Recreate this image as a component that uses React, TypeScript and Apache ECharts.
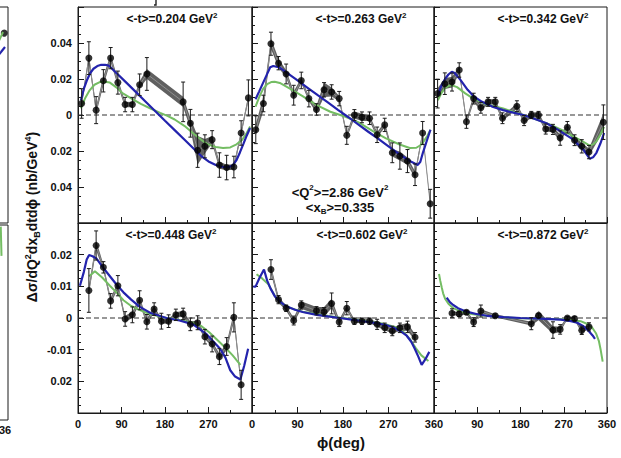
import React, { useEffect, useRef } from "react";
import * as echarts from "echarts";

const FONT = "'Liberation Sans', Arial, Helvetica, sans-serif";
const BLUE = "#2323ad";
const GREEN = "#74bd63";
const BAND = "#606060";
const LINK = "#8e8e8e";
const INK = "#1a1a1a";

// ---- <-t> = 0.204 GeV^2 ----
const phiA = [7.5, 22.5, 37.5, 52.5, 67.5, 82.5, 97.5, 112.5, 127.5, 142.5, 217.5, 232.5, 247.5, 262.5, 277.5, 292.5, 307.5, 322.5, 337.5, 352.5];
const valA = [0.0064, 0.0316, 0.0027, 0.019, 0.0316, 0.018, 0.0058, 0.0058, 0.0168, 0.0228, 0.0073, -0.0046, -0.0196, -0.0174, -0.0137, -0.0278, -0.0292, -0.0289, -0.01, 0.0095];
const errA = [0.0082, 0.0091, 0.0075, 0.0062, 0.0059, 0.0064, 0.004, 0.004, 0.006, 0.0091, 0.011, 0.0077, 0.0095, 0.0064, 0.005, 0.0068, 0.0068, 0.006, 0.0068, 0.01];
const sysA = [0.0015, 0.002, 0.002, 0.0025, 0.002, 0.002, 0.0015, 0.0015, 0.002, 0.0028, 0.0028, 0.003, 0.008, 0.004, 0.002, 0.002, 0.0015, 0.0015, 0.0015, 0.0015];
const blueA = [[6, 0.008], [12, 0.0145], [18, 0.019], [25, 0.0232], [32, 0.0257], [40, 0.0272], [48, 0.0279], [56, 0.0279], [64, 0.0274], [80, 0.0232], [100, 0.018], [120, 0.0127], [140, 0.0074], [160, 0.0021], [180, -0.0032], [200, -0.0084], [220, -0.0136], [240, -0.0189], [255, -0.0228], [270, -0.0258], [285, -0.0278], [300, -0.0289], [311, -0.029], [320, -0.028], [328, -0.025], [335, -0.0208], [342, -0.0162], [349, -0.0115], [356, -0.0072]];
const greenA = [[6, 0.0037], [15, 0.0095], [24, 0.0137], [34, 0.0168], [45, 0.0183], [55, 0.0185], [66, 0.018], [80, 0.0152], [92, 0.0122], [110, 0.0092], [130, 0.0062], [150, 0.0036], [170, 0.0012], [185, -0.0005], [200, -0.0025], [220, -0.006], [240, -0.0105], [255, -0.0138], [268, -0.0162], [285, -0.0178], [300, -0.0183], [315, -0.018], [328, -0.0163], [340, -0.0137], [348, -0.0105], [356, -0.0064]];

// ---- <-t> = 0.263 GeV^2 ----
const phiB = [7.5, 22.5, 37.5, 52.5, 67.5, 82.5, 97.5, 112.5, 127.5, 142.5, 157.5, 172.5, 187.5, 202.5, 217.5, 232.5, 247.5, 262.5, 277.5, 292.5, 307.5, 322.5, 337.5, 352.5];
const valB = [-0.0082, 0.0064, 0.0396, 0.0288, 0.0228, 0.011, 0.0192, 0.0091, 0.0031, 0.014, 0.0128, 0.0091, -0.0113, 0.0, -0.0013, -0.0018, -0.011, -0.0055, -0.021, -0.0228, -0.0256, -0.0332, -0.01, -0.0493];
const errB = [0.0077, 0.0046, 0.0064, 0.0037, 0.0055, 0.0055, 0.0046, 0.0046, 0.0032, 0.004, 0.004, 0.004, 0.005, 0.003, 0.003, 0.0035, 0.0043, 0.0037, 0.0055, 0.0073, 0.0064, 0.006, 0.0064, 0.008];
const sysB = [0.003, 0.004, 0.003, 0.0025, 0.002, 0.002, 0.0015, 0.0015, 0.002, 0.004, 0.0025, 0.0015, 0.0015, 0.002, 0.002, 0.0015, 0.0015, 0.0015, 0.002, 0.0025, 0.002, 0.002, 0.001, 0.0005];
const blueB = [[7, 0.0088], [14, 0.013], [21, 0.0173], [28, 0.0216], [36, 0.0265], [42, 0.0272], [54, 0.0265], [70, 0.0233], [90, 0.0192], [110, 0.0151], [130, 0.011], [150, 0.007], [170, 0.0029], [190, -0.0011], [210, -0.0052], [230, -0.0093], [250, -0.0133], [270, -0.0174], [292, -0.0219], [305, -0.0243], [315, -0.026], [322, -0.027], [328, -0.0277], [333, -0.026], [338, -0.021], [345, -0.015], [353, -0.0082]];
const greenB = [[7, 0.0046], [15, 0.0105], [22, 0.0145], [30, 0.0172], [38, 0.0183], [45, 0.0185], [55, 0.0178], [75, 0.0146], [100, 0.0105], [128, 0.0055], [155, 0.0018], [185, -0.001], [210, -0.004], [240, -0.0091], [265, -0.013], [292, -0.0164], [312, -0.0183], [325, -0.0182], [333, -0.0168], [340, -0.0145], [347, -0.0115], [353, -0.0082]];

// ---- <-t> = 0.342 GeV^2 ----
const phiC = [7.5, 22.5, 37.5, 52.5, 67.5, 82.5, 97.5, 112.5, 127.5, 142.5, 172.5, 187.5, 202.5, 217.5, 232.5, 247.5, 262.5, 277.5, 292.5, 307.5, 322.5, 352.5];
const valC = [0.0119, 0.0174, 0.0183, 0.025, -0.0037, 0.0091, 0.004, 0.0073, 0.0073, -0.0018, 0.0049, -0.0031, 0.0, 0.0, -0.0078, -0.008, -0.0128, -0.0068, -0.014, -0.0174, -0.0206, -0.004];
const errC = [0.008, 0.006, 0.005, 0.004, 0.0037, 0.003, 0.003, 0.0025, 0.0025, 0.003, 0.003, 0.0028, 0.002, 0.002, 0.0028, 0.0028, 0.004, 0.0032, 0.003, 0.0037, 0.0037, 0.0096];
const sysC = [0.003, 0.003, 0.003, 0.002, 0.0015, 0.002, 0.0015, 0.0015, 0.0015, 0.0015, 0.0015, 0.0015, 0.0015, 0.0015, 0.0015, 0.0015, 0.002, 0.0015, 0.002, 0.002, 0.002, 0.005];
const blueC = [[8, 0.011], [15, 0.016], [23, 0.02], [30, 0.0225], [37, 0.024], [43, 0.0233], [55, 0.0195], [70, 0.014], [82, 0.0105], [100, 0.0073], [120, 0.0048], [144, 0.0027], [165, 0.0013], [186, 0], [210, -0.0022], [234, -0.0046], [260, -0.0085], [290, -0.0137], [310, -0.019], [324, -0.0243], [331, -0.0235], [338, -0.021], [346, -0.016], [354, -0.01]];
const greenC = [[8, 0.0082], [15, 0.012], [23, 0.015], [30, 0.0162], [37, 0.0165], [48, 0.0155], [65, 0.012], [82, 0.0091], [110, 0.0058], [144, 0.0036], [165, 0.0018], [186, 0], [215, -0.0027], [248, -0.006], [270, -0.0088], [290, -0.0119], [310, -0.0148], [324, -0.017], [332, -0.0162], [338, -0.0146], [346, -0.011], [354, -0.0066]];

// ---- <-t> = 0.448 GeV^2 ----
const phiD = [22.5, 37.5, 52.5, 67.5, 82.5, 97.5, 112.5, 127.5, 142.5, 157.5, 172.5, 187.5, 202.5, 217.5, 232.5, 247.5, 262.5, 277.5, 292.5, 307.5, 322.5, 337.5];
const valD = [0.0087, 0.0229, 0.016, 0.0054, 0.0102, -0.0003, 0.001, 0.0056, -0.0012, 0.0028, -0.001, -0.001, 0.001, 0.0013, -0.002, -0.0015, -0.0059, -0.0082, -0.0122, -0.009, 0.0002, -0.0211];
const errD = [0.0069, 0.0046, 0.0018, 0.0023, 0.0032, 0.0023, 0.0025, 0.003, 0.0023, 0.002, 0.0025, 0.002, 0.0018, 0.0018, 0.002, 0.0022, 0.0023, 0.0025, 0.0025, 0.0028, 0.0046, 0.0046];
const sysD = [0.0012, 0.0015, 0.001, 0.001, 0.001, 0.001, 0.001, 0.001, 0.001, 0.001, 0.0008, 0.0008, 0.0008, 0.001, 0.0008, 0.0008, 0.0008, 0.0008, 0.001, 0.0012, 0.0015, 0.001];
const blueD = [[4, 0.0102], [12, 0.0145], [18, 0.0185], [23, 0.0199], [30, 0.0195], [38, 0.0188], [50, 0.0163], [66, 0.0132], [80, 0.0105], [94, 0.0081], [110, 0.0058], [128, 0.0035], [150, 0.0016], [183, 0], [210, -0.0008], [238, -0.002], [266, -0.0051], [294, -0.0097], [305, -0.0125], [315, -0.0165], [325, -0.0185], [336, -0.0194], [344, -0.015], [352, -0.0097]];
const greenD = [[23, 0.0132], [35, 0.0148], [50, 0.0128], [66, 0.0102], [80, 0.008], [94, 0.0056], [110, 0.0038], [128, 0.0025], [150, 0.0012], [183, 0], [210, -0.0006], [238, -0.0015], [255, -0.0025], [272, -0.0046], [290, -0.0072], [307, -0.0097], [320, -0.0118], [336, -0.0148]];

// ---- <-t> = 0.602 GeV^2 ----
const phiE = [37.5, 52.5, 67.5, 82.5, 97.5, 127.5, 142.5, 157.5, 172.5, 187.5, 202.5, 217.5, 232.5, 247.5, 262.5, 277.5, 292.5, 307.5, 322.5];
const valE = [0.0153, 0.0058, 0.0031, -0.0008, 0.0041, 0.0023, 0.002, 0.0046, -0.0013, 0.0031, -0.001, -0.001, -0.001, -0.002, -0.0031, -0.0041, -0.0031, -0.0028, -0.0061];
const errE = [0.0031, 0.0013, 0.001, 0.0014, 0.0013, 0.0013, 0.0013, 0.0033, 0.0014, 0.0021, 0.001, 0.001, 0.001, 0.0016, 0.0015, 0.0015, 0.0015, 0.0018, 0.0015];
const sysE = [0.0012, 0.001, 0.0008, 0.0008, 0.0012, 0.0012, 0.0015, 0.0015, 0.0008, 0.0008, 0.0006, 0.0006, 0.0006, 0.0008, 0.0008, 0.0008, 0.001, 0.0012, 0.001];
const blueE = [[2.6, 0.0099], [7, 0.0099], [15, 0.0127], [23.7, 0.0153], [30, 0.0118], [37, 0.0092], [45, 0.0069], [55, 0.0052], [68, 0.0037], [85, 0.0026], [100, 0.0019], [128, 0.001], [150, 0.0005], [174, 0], [200, -0.0006], [225, -0.0011], [246, -0.0016], [265, -0.0022], [280, -0.003], [295, -0.0043], [306, -0.0056], [315, -0.0075], [322, -0.0097], [329, -0.0122], [335.6, -0.0148], [343, -0.013], [350.7, -0.0107]];
const greenE = [[9, 0.0138], [20, 0.0125], [32, 0.0107], [47, 0.0065], [60, 0.0045], [75, 0.0032], [100, 0.002], [130, 0.0012], [174, 0.0001], [220, -0.0008], [260, -0.0018], [286, -0.003], [300, -0.0045], [312, -0.0066], [324, -0.0095], [335, -0.0118], [349, -0.0136]];

// ---- <-t> = 0.872 GeV^2 ----
const phiF = [37.5, 52.5, 67.5, 82.5, 97.5, 127.5, 202.5, 217.5, 247.5, 262.5, 277.5, 292.5, 307.5, 322.5];
const valF = [0.0015, 0.0013, 0.0018, -0.0013, 0.0022, 0.0007, -0.0018, 0.0008, -0.0038, -0.0036, 0.0, -0.0002, -0.0039, -0.0028];
const errF = [0.0014, 0.0008, 0.0006, 0.0014, 0.0019, 0.0006, 0.0019, 0.0006, 0.0026, 0.0015, 0.0005, 0.0006, 0.0013, 0.0013];
const sysF = [0.0006, 0.0006, 0.0006, 0.0006, 0.0006, 0.0005, 0.0006, 0.0015, 0.0012, 0.0008, 0.0005, 0.0005, 0.0008, 0.0006];
const blueF = [[26.4, 0.0064], [33, 0.005], [40, 0.0041], [50, 0.0031], [68, 0.002], [90, 0.0012], [110, 0.0007], [145, 0.0003], [180, 0], [220, -0.0002], [264, -0.0005], [285, -0.001], [298, -0.0015], [310, -0.0025], [322, -0.0041], [330, -0.0055], [335, -0.0066]];
const greenF = [[10.4, 0.0139], [13, 0.0118], [16, 0.0097], [19, 0.0078], [23, 0.0061], [30, 0.0045], [40, 0.0031], [55, 0.0021], [68, 0.0015], [100, 0.0008], [140, 0.0003], [180, -0.0001], [220, -0.0002], [264, -0.0004], [290, -0.0007], [305, -0.001], [318, -0.0018], [329, -0.003], [337, -0.0048], [343, -0.0072], [347, -0.0102], [351, -0.0138]];

// Edge of the neighbouring figure
const edgeTopPoint = [[352.5, 0.0455]];
const edgeTopGreen = [[340, 0.04], [350, 0.0461]];
const edgeTopBlue = [[340, 0.033], [354, 0.0378]];
const edgeLowGreen = [[345.5, 0.0295], [347, 0.0205]];

const tValues = ["0.204", "0.263", "0.342", "0.448", "0.602", "0.872"];
const q2Value = "2.86";
const xbValue = "0.335";

const panels = [
  { phi: phiA, val: valA, err: errA, sys: sysA, blue: blueA, green: greenA },
  { phi: phiB, val: valB, err: errB, sys: sysB, blue: blueB, green: greenB },
  { phi: phiC, val: valC, err: errC, sys: sysC, blue: blueC, green: greenC },
  { phi: phiD, val: valD, err: errD, sys: sysD, blue: blueD, green: greenD },
  { phi: phiE, val: valE, err: errE, sys: sysE, blue: blueE, green: greenE },
  { phi: phiF, val: valF, err: errF, sys: sysF, blue: blueF, green: greenF },
];

// frame layout
const colLeft = [78, 252, 434];
const colWidth = [174, 182, 173];
const rowTop = [7, 223];
const rowHeight = [216, 190];
const rowRange = [0.06, 0.03];
const rowStep = [0.02, 0.01];

const r4 = (v: number) => Math.round(v * 10000) / 10000;

function yLabel(row: number) {
  return (v: number) => {
    const x = r4(v);
    if (Math.abs(x) > rowRange[row] - 1e-6) return "";
    if (x === 0) return "0";
    if (row === 1 && x === -0.01) return "-0.01";
    return Math.abs(x).toFixed(2);
  };
}

function xLabel(col: number) {
  return (v: number) => {
    if (col === 0 && v === 360) return "";
    if (col === 2 && v === 0) return "";
    return String(v);
  };
}

function bandItem(params: any, api: any) {
  const a = api.coord([api.value(0), api.value(2)]);
  const b = api.coord([api.value(3), api.value(5)]);
  const c = api.coord([api.value(3), api.value(4)]);
  const d = api.coord([api.value(0), api.value(1)]);
  return { type: "polygon", shape: { points: [a, b, c, d] }, style: { fill: BAND } };
}

function errItem(params: any, api: any) {
  const x = api.value(0);
  const hi = api.coord([x, api.value(2)]);
  const lo = api.coord([x, api.value(1)]);
  const w = 2;
  const st = { stroke: INK, lineWidth: 1 };
  return {
    type: "group",
    children: [
      { type: "line", shape: { x1: hi[0], y1: hi[1], x2: lo[0], y2: lo[1] }, style: st },
      { type: "line", shape: { x1: hi[0] - w, y1: hi[1], x2: hi[0] + w, y2: hi[1] }, style: st },
      { type: "line", shape: { x1: lo[0] - w, y1: lo[1], x2: lo[0] + w, y2: lo[1] }, style: st },
    ],
  };
}

function buildOption() {
  const grid: any[] = [];
  const xAxis: any[] = [];
  const yAxis: any[] = [];
  const series: any[] = [];
  const axisLine = { show: true, onZero: false, lineStyle: { color: INK, width: 1 } };
  const labelFont = { fontFamily: FONT, fontWeight: "bold", fontSize: 11, color: "#111" };

  panels.forEach((p, i) => {
    const row = Math.floor(i / 3);
    const col = i % 3;
    grid.push({
      left: colLeft[col], top: rowTop[row], width: colWidth[col], height: rowHeight[row],
      show: true, borderColor: INK, borderWidth: 1, outerBoundsMode: "none", containLabel: false,
    });
    xAxis.push({
      gridIndex: i, type: "value", min: 0, max: 360, interval: 90,
      axisLine,
      axisTick: { show: true, inside: true, length: 6, lineStyle: { color: INK } },
      minorTick: { show: true, splitNumber: 2, length: 3, lineStyle: { color: INK } },
      splitLine: { show: false },
      axisLabel: { show: row === 1, margin: 5, formatter: xLabel(col), ...labelFont },
    });
    yAxis.push({
      gridIndex: i, type: "value", min: -rowRange[row], max: rowRange[row], interval: rowStep[row],
      axisLine,
      axisTick: { show: true, inside: true, length: 6, lineStyle: { color: INK } },
      minorTick: { show: true, splitNumber: 4, length: 3, lineStyle: { color: INK } },
      splitLine: { show: false },
      axisLabel: { show: col === 0, margin: 6, formatter: yLabel(row), ...labelFont },
    });

    const pts = p.phi.map((f, k) => [f, p.val[k]]);
    const bars = p.phi.map((f, k) => [f, p.val[k] - p.err[k], p.val[k] + p.err[k]]);
    const quads = p.phi.slice(0, -1).map((f, k) => [
      f, p.val[k] - p.sys[k], p.val[k] + p.sys[k],
      p.phi[k + 1], p.val[k + 1] - p.sys[k + 1], p.val[k + 1] + p.sys[k + 1],
    ]);
    const ax = { xAxisIndex: i, yAxisIndex: i };

    series.push({ type: "custom", ...ax, renderItem: bandItem, data: quads, z: 2, silent: true, clip: true });
    series.push({ type: "line", ...ax, data: pts, symbol: "none", z: 3, lineStyle: { color: LINK, width: 1 } });
    series.push({ type: "line", ...ax, data: [[0, 0], [360, 0]], symbol: "none", z: 3, lineStyle: { color: "#333", width: 1.2, type: [5, 3] } });
    series.push({ type: "line", ...ax, data: p.green, symbol: "none", z: 4, lineStyle: { color: GREEN, width: 2 } });
    series.push({ type: "line", ...ax, data: p.blue, symbol: "none", z: 5, lineStyle: { color: BLUE, width: 2.2 } });
    series.push({ type: "custom", ...ax, renderItem: errItem, data: bars, z: 6, silent: true, clip: true });
    series.push({ type: "scatter", ...ax, data: pts, symbol: "circle", symbolSize: 7, z: 7, itemStyle: { color: "#000" } });
  });

  // neighbouring figure, mostly outside the page
  const edgeGrids = [
    { left: -172, top: 7, width: 180, height: 216, range: 0.06 },
    { left: -172, top: 225, width: 180, height: 195, range: 0.03 },
  ];
  edgeGrids.forEach((g, j) => {
    const idx = 6 + j;
    grid.push({
      left: g.left, top: g.top, width: g.width, height: g.height,
      show: true, borderColor: INK, borderWidth: 1, outerBoundsMode: "none", containLabel: false,
    });
    xAxis.push({ gridIndex: idx, type: "value", min: 0, max: 360, show: false });
    yAxis.push({ gridIndex: idx, type: "value", min: -g.range, max: g.range, show: false });
  });
  series.push({ type: "line", xAxisIndex: 6, yAxisIndex: 6, data: edgeTopGreen, symbol: "none", lineStyle: { color: GREEN, width: 2 } });
  series.push({ type: "line", xAxisIndex: 6, yAxisIndex: 6, data: edgeTopBlue, symbol: "none", lineStyle: { color: BLUE, width: 2.2 } });
  series.push({ type: "scatter", xAxisIndex: 6, yAxisIndex: 6, data: edgeTopPoint, symbolSize: 7, itemStyle: { color: "#000" } });
  series.push({ type: "line", xAxisIndex: 7, yAxisIndex: 7, data: edgeLowGreen, symbol: "none", lineStyle: { color: GREEN, width: 2 } });

  const tCenters = [[172, 19], [361, 19], [543, 19], [171, 235], [362, 235], [543, 235]];
  const tRich = {
    a: { fontFamily: FONT, fontWeight: "bold", fontSize: 12, lineHeight: 16, fill: "#111" },
    s: { fontFamily: FONT, fontWeight: "bold", fontSize: 8, lineHeight: 10, verticalAlign: "top", fill: "#111" },
    b: { fontFamily: FONT, fontWeight: "bold", fontSize: 8, lineHeight: 10, verticalAlign: "bottom", fill: "#111" },
    q: { fontFamily: FONT, fontWeight: "bold", fontSize: 13, lineHeight: 17, fill: "#111" },
  };
  const graphic: any[] = tValues.map((t, i) => ({
    type: "text", x: tCenters[i][0], y: tCenters[i][1], z: 20,
    style: { text: `{a|<-t>=${t} GeV}{s|2}`, rich: tRich, align: "center", verticalAlign: "middle" },
  }));
  graphic.push({
    type: "text", x: 340, y: 192, z: 20,
    style: { text: `{q|<Q}{s|2}{q|>=${q2Value} GeV}{s|2}`, rich: tRich, align: "center", verticalAlign: "middle" },
  });
  graphic.push({
    type: "text", x: 340, y: 207, z: 20,
    style: { text: `{q|<x}{b|B}{q|>=${xbValue}}`, rich: tRich, align: "center", verticalAlign: "middle" },
  });
  graphic.push({
    type: "text", x: 32, y: 217, rotation: Math.PI / 2, z: 20,
    style: {
      text: "{n|Δσ/dQ}{p|2}{n|dx}{d|B}{n|dtdϕ (nb/GeV}{p|4}{n|)}",
      align: "center", verticalAlign: "middle",
      rich: {
        n: { fontFamily: FONT, fontWeight: "bold", fontSize: 14, lineHeight: 18, fill: "#111" },
        p: { fontFamily: FONT, fontWeight: "bold", fontSize: 9, lineHeight: 11, verticalAlign: "top", fill: "#111" },
        d: { fontFamily: FONT, fontWeight: "bold", fontSize: 9, lineHeight: 11, verticalAlign: "bottom", fill: "#111" },
      },
    },
  });
  graphic.push({
    type: "text", x: 341, y: 442, z: 20,
    style: { text: "ϕ(deg)", fontFamily: FONT, fontWeight: "bold", fontSize: 15, fill: "#111", align: "center", verticalAlign: "middle" },
  });
  graphic.push({
    type: "text", x: -1, y: 430, z: 20,
    style: { text: "36", fontFamily: FONT, fontWeight: "bold", fontSize: 11, fill: "#111", align: "left", verticalAlign: "middle" },
  });
  // stroke peeking in from the caption above the figure
  graphic.push({
    type: "polyline", z: 20,
    shape: { points: [[156, 0], [156, 5], [154, 5]] },
    style: { stroke: "#222", lineWidth: 1.4, fill: null },
  });

  return { animation: false, backgroundColor: "#fff", grid, xAxis, yAxis, series, graphic };
}

export default function App() {
  const ref = useRef<HTMLDivElement>(null);
  useEffect(() => {
    const chart = echarts.init(ref.current!, undefined, { renderer: "svg" });
    chart.setOption(buildOption() as any);
    return () => chart.dispose();
  }, []);
  return (
    <div
      ref={ref}
      style={{ position: "fixed", left: 0, top: 0, width: 621, height: 458, background: "#fff" }}
    />
  );
}
